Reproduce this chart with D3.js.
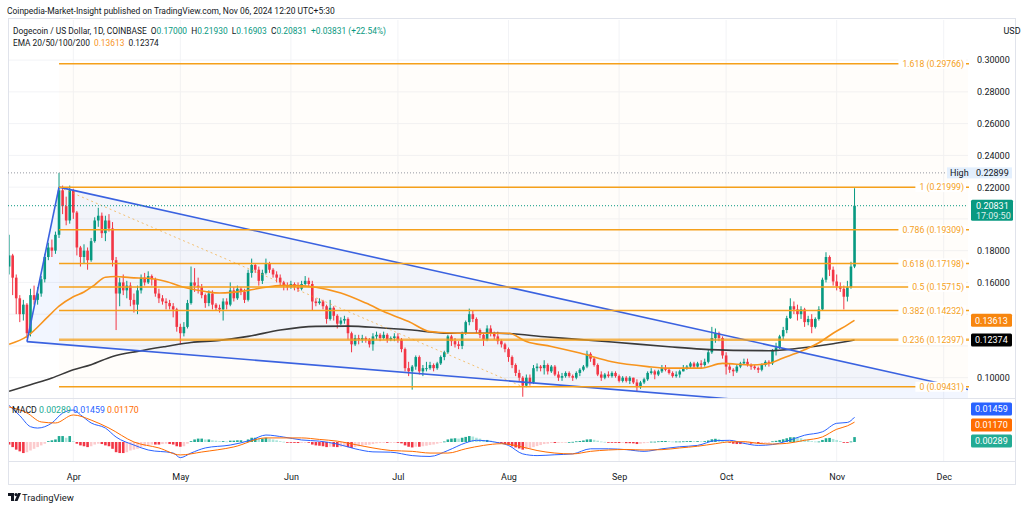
<!DOCTYPE html>
<html><head><meta charset="utf-8">
<script src="https://cdn.jsdelivr.net/npm/d3@7"></script>
<style>
body{margin:0;background:#fff;}
svg{display:block;}
text{font-family:Roboto,"Liberation Sans",sans-serif;}
</style></head>
<body><svg id="c" width="1024" height="510"></svg>
<script>
// ---------------- DATA ----------------
const firstDate = "2024-03-14";
const firstOpen = 0.170;
// daily closes Mar 14 .. Nov 6 2024
const closes = [
.177,.163,.150,.140,.146,.128,.152,.149,.153,.162,.176,.182,.180,.190,.218,.208,.199,.218,
.204,.182,.176,.180,.174,.186,.199,.202,.191,.199,.194,.174,.153,.160,.155,.158,.149,.146,.155,.163,.160,.164,.162,.153,.150,.148,.147,.145,.143,.132,
.128,.132,.147,.160,.158,.157,.152,.147,.153,.146,.144,.143,.148,.146,.155,.150,.156,.154,.149,.166,.171,.168,.161,.166,.172,.168,.165,.163,.160,.158,.157,
.159,.157,.156,.159,.161,.159,.148,.147,.148,.145,.137,.144,.139,.134,.136,.137,.128,.121,.125,.124,.125,.124,.121,.126,.127,.125,.127,.124,.125,.126,
.124,.118,.106,.104,.107,.113,.104,.106,.106,.108,.106,.109,.113,.116,.126,.123,.121,.120,.128,.135,.140,.137,.130,.127,.124,.131,.128,.126,.123,.121,.118,
.113,.108,.103,.100,.095,.100,.097,.106,.107,.106,.108,.104,.107,.102,.100,.101,.103,.101,.100,.103,.105,.107,.115,.112,.108,.102,.100,.102,.101,.103,.101,
.098,.100,.098,.100,.097,.094,.097,.099,.103,.104,.102,.104,.106,.105,.103,.101,.102,.104,.106,.107,.109,.107,.109,.108,.110,.116,.125,.128,.125,.114,
.107,.105,.104,.107,.109,.110,.108,.107,.106,.105,.108,.110,.109,.117,.119,.126,.130,.1375,.145,.143,.140,.143,.135,.137,.132,.137,.143,.1617,.176,.168,.1606,
.1575,.156,.151,.157,.170,.20831];
const highs = [
.190,.178,.165,.152,.149,.147,.156,.158,.157,.164,.178,.185,.187,.192,.229,.221,.214,.221,
.219,.205,.183,.184,.182,.188,.201,.207,.204,.202,.203,.198,.176,.163,.165,.161,.160,.153,.158,.165,.166,.167,.165,.163,.156,.152,.150,.149,.147,.144,
.134,.135,.149,.170,.169,.163,.159,.153,.155,.155,.147,.146,.150,.150,.160,.157,.158,.157,.156,.168,.175,.172,.170,.168,.175,.173,.169,.167,.165,.161,.160,
.161,.160,.160,.161,.164,.163,.161,.150,.150,.149,.146,.149,.145,.140,.138,.139,.138,.129,.127,.127,.127,.126,.125,.128,.129,.128,.129,.128,.126,.128,
.128,.125,.119,.110,.108,.114,.114,.108,.110,.110,.109,.110,.114,.117,.127,.127,.125,.123,.129,.136,.1435,.142,.138,.131,.128,.133,.133,.129,.129,.124,.122,
.119,.114,.109,.105,.101,.102,.102,.108,.109,.108,.111,.109,.108,.108,.104,.103,.104,.104,.102,.104,.106,.108,.117,.116,.113,.109,.104,.103,.104,.104,.104,
.102,.101,.101,.101,.100,.099,.098,.100,.104,.106,.105,.105,.108,.108,.106,.104,.104,.105,.108,.108,.110,.110,.110,.111,.112,.118,.132,.131,.129,.126,
.116,.109,.106,.108,.110,.112,.112,.109,.108,.107,.109,.111,.111,.118,.122,.127,.132,.139,.150,.148,.146,.145,.144,.139,.140,.138,.145,.163,.179,.177,.170,
.165,.160,.158,.161,.173,.2193];
const lows = [
.165,.152,.140,.135,.136,.125,.126,.146,.146,.151,.160,.174,.176,.178,.188,.203,.196,.197,
.200,.177,.170,.172,.168,.173,.185,.195,.188,.186,.192,.170,.130,.145,.152,.150,.145,.141,.140,.153,.158,.159,.158,.151,.147,.146,.143,.143,.138,.129,
.121,.126,.131,.146,.154,.153,.150,.144,.145,.143,.142,.141,.136,.143,.145,.148,.149,.152,.147,.148,.163,.166,.158,.159,.165,.166,.163,.160,.158,.155,.155,
.156,.155,.154,.155,.158,.157,.142,.145,.146,.143,.134,.136,.136,.131,.133,.134,.124,.116,.120,.121,.122,.122,.119,.117,.124,.123,.124,.122,.123,.123,
.122,.116,.104,.101,.0925,.105,.102,.101,.104,.105,.104,.105,.108,.111,.115,.120,.119,.118,.118,.127,.133,.135,.128,.125,.120,.123,.126,.124,.121,.119,.116,
.110,.106,.101,.098,.088,.094,.095,.096,.104,.104,.102,.102,.103,.101,.098,.098,.100,.100,.098,.099,.101,.104,.106,.110,.107,.101,.098,.099,.100,.100,.100,
.097,.097,.097,.096,.096,.091,.093,.096,.098,.102,.099,.101,.103,.104,.102,.100,.100,.100,.104,.105,.106,.106,.106,.106,.107,.109,.115,.122,.123,.112,
.102,.103,.101,.103,.106,.108,.107,.105,.105,.103,.104,.107,.107,.108,.114,.118,.124,.128,.137,.140,.136,.137,.132,.133,.128,.131,.136,.142,.160,.164,.158,
.155,.154,.143,.148,.156,.169];

// EMA 50 (orange) and EMA 200 (dark) read at sample dates
const ema50 = [["2024-03-14",.121],["2024-03-19",.126],["2024-03-25",.1386],["2024-03-28",.145],["2024-04-01",.151],["2024-04-04",.154],["2024-04-07",.1585],["2024-04-10",.1633],["2024-04-13",.1637],["2024-04-17",.163],["2024-04-22",.1626],["2024-04-27",.1606],["2024-05-02",.157],["2024-05-08",.1543],["2024-05-12",.1533],["2024-05-20",.155],["2024-05-25",.157],["2024-05-29",.158],["2024-06-03",.158],["2024-06-08",.157],["2024-06-15",.1533],["2024-06-22",.147],["2024-06-28",.1407],["2024-07-04",.1354],["2024-07-10",.129],["2024-07-13",.1285],["2024-07-19",.128],["2024-07-26",.128],["2024-08-01",.128],["2024-08-06",.1228],["2024-08-13",.1197],["2024-08-21",.1155],["2024-08-30",.110],["2024-09-09",.107],["2024-09-15",.106],["2024-09-24",.106],["2024-09-30",.109],["2024-10-08",.108],["2024-10-13",.109],["2024-10-17",.1124],["2024-10-22",.1166],["2024-10-27",.122],["2024-10-31",.128],["2024-11-04",.1333],["2024-11-06",.13613]];
const ema200 = [["2024-03-14",.0914],["2024-03-20",.0956],["2024-03-26",.0998],["2024-04-01",.105],["2024-04-06",.1082],["2024-04-12",.1134],["2024-04-19",.1166],["2024-04-27",.1197],["2024-05-04",.1222],["2024-05-12",.1235],["2024-05-20",.126],["2024-05-29",.130],["2024-06-08",.1323],["2024-06-17",.1325],["2024-06-26",.1315],["2024-07-05",.130],["2024-07-15",.128],["2024-07-29",.128],["2024-08-12",.1256],["2024-08-30",.1225],["2024-09-15",.1195],["2024-09-24",.118],["2024-10-03",.1172],["2024-10-13",.117],["2024-10-22",.1187],["2024-10-31",.1214],["2024-11-06",.12374]];

// MACD (12,26,9)
const macdLine = [["2024-03-14",.0215],["2024-03-17",.0155],["2024-03-20",.0090],["2024-03-22",.0082],["2024-03-26",.0112],["2024-03-29",.0170],["2024-04-01",.0188],["2024-04-03",.0160],["2024-04-06",.0112],["2024-04-10",.0082],["2024-04-13",.0029],["2024-04-18",-.0018],["2024-04-22",-.0047],["2024-04-29",-.0065],["2024-05-01",-.0092],["2024-05-04",-.0065],["2024-05-08",-.0035],["2024-05-15",-.0018],["2024-05-21",.0012],["2024-05-25",.0041],["2024-05-30",.0029],["2024-06-04",.0012],["2024-06-09",.0005],["2024-06-14",-.0012],["2024-06-19",-.0040],["2024-06-24",-.0058],["2024-06-29",-.0060],["2024-07-05",-.0080],["2024-07-10",-.0085],["2024-07-15",-.0050],["2024-07-20",-.0005],["2024-07-23",.0010],["2024-07-28",.0],["2024-08-01",-.0020],["2024-08-05",-.0070],["2024-08-09",-.0080],["2024-08-14",-.0075],["2024-08-19",-.0070],["2024-08-24",-.0040],["2024-08-29",-.0040],["2024-09-03",-.0045],["2024-09-08",-.0055],["2024-09-13",-.0040],["2024-09-18",-.0028],["2024-09-23",-.0020],["2024-09-28",.0008],["2024-10-02",.0010],["2024-10-06",-.0008],["2024-10-10",-.0020],["2024-10-14",-.0015],["2024-10-18",.0005],["2024-10-23",.0040],["2024-10-28",.0060],["2024-11-01",.0110],["2024-11-04",.0115],["2024-11-06",.01459]];
const signalLine = [["2024-03-14",.0206],["2024-03-19",.0171],["2024-03-23",.0118],["2024-03-27",.0112],["2024-04-01",.0159],["2024-04-06",.0129],["2024-04-11",.0082],["2024-04-18",.0],["2024-04-25",-.0035],["2024-05-01",-.0076],["2024-05-07",-.0059],["2024-05-16",-.0029],["2024-05-25",.0024],["2024-06-04",.0024],["2024-06-09",.0015],["2024-06-14",.0005],["2024-06-19",-.0015],["2024-06-24",-.0035],["2024-06-29",-.0050],["2024-07-05",-.0055],["2024-07-10",-.0065],["2024-07-15",-.0065],["2024-07-20",-.0040],["2024-07-25",-.0020],["2024-07-30",-.0010],["2024-08-05",-.0030],["2024-08-09",-.0050],["2024-08-14",-.0065],["2024-08-19",-.0070],["2024-08-24",-.0055],["2024-08-29",-.0047],["2024-09-03",-.0044],["2024-09-08",-.0047],["2024-09-13",-.0045],["2024-09-18",-.0035],["2024-09-23",-.0025],["2024-09-28",-.0010],["2024-10-02",.0001],["2024-10-06",.0002],["2024-10-10",-.0008],["2024-10-14",-.0012],["2024-10-18",-.0008],["2024-10-23",.0010],["2024-10-28",.0030],["2024-11-01",.0075],["2024-11-04",.0095],["2024-11-06",.0117]];
// histogram per day, Mar 14 .. Nov 6
const macdHist = [
-.0015,-.003,-.0045,-.0055,-.0065,-.006,-.005,-.004,-.003,-.002,-.001,.0005,.001,.0015,.0035,.0035,.0025,.0035,
.0005,-.001,-.002,-.0025,-.003,-.0025,-.0015,-.001,-.0012,-.002,-.0025,-.004,-.006,-.0065,-.0065,-.006,-.005,-.0045,-.004,-.003,-.0025,-.002,-.0015,-.0015,-.0015,-.0012,-.001,-.0012,-.0015,-.0025,
-.0028,-.0025,-.001,.0005,.0015,.002,.002,.0015,.0015,.001,.0008,.0005,.0005,.0003,.0008,.0008,.001,.001,.0005,.0015,.0025,.0025,.002,.002,.0025,.002,.0015,.001,.0005,.0002,-.0002,
-.0003,-.0005,-.0006,-.0005,-.0003,-.0003,-.0015,-.002,-.0022,-.0025,-.003,-.0028,-.0028,-.003,-.0028,-.0025,-.003,-.0035,-.003,-.0025,-.002,-.0018,-.0016,-.0012,-.0008,-.0006,-.0003,-.0003,-.0002,-.0001,
-.0002,-.0008,-.002,-.0028,-.0032,-.0028,-.0028,-.0025,-.0022,-.0018,-.0015,-.001,-.0005,.0003,.0015,.002,.0022,.002,.0025,.003,.0035,.0032,.0025,.002,.0012,.0012,.0008,.0003,-.0002,-.0006,-.0012,
-.0018,-.0025,-.0032,-.0038,-.0045,-.0042,-.0038,-.003,-.0024,-.0018,-.0012,-.001,-.0006,-.0006,-.0005,-.0003,-.0001,0,.0001,.0004,.0006,.0009,.0015,.0016,.0013,.0008,.0003,.0001,-.0001,-.0001,-.0003,
-.0006,-.0005,-.0007,-.0007,-.0008,-.0012,-.001,-.0007,-.0002,.0002,.0002,.0004,.0006,.0006,.0005,.0003,.0003,.0003,.0004,.0005,.0006,.0005,.0005,.0004,.0005,.0009,.0016,.0019,.0018,.0012,
.0002,-.0005,-.001,-.0012,-.0012,-.0011,-.001,-.001,-.0009,-.0009,-.0006,-.0004,-.0003,.0004,.0007,.0012,.0016,.0022,.0028,.0028,.0025,.0022,.0016,.0012,.0005,.0003,.0003,.0012,.0022,.0024,.0018,
.0012,.0006,-.0002,-.0005,.0003,.00289];

const priceTicks = [0.10,0.12,0.14,0.16,0.18,0.20,0.22,0.24,0.26,0.28,0.30];
const monthTicks = ["2024-04-01","2024-05-01","2024-06-01","2024-07-01","2024-08-01","2024-09-01","2024-10-01","2024-11-01","2024-12-01"];
const fibRatios = [1.618,1,0.786,0.618,0.5,0.382,0.236,0];
const fibPrices = [0.29766,0.21999,0.19309,0.17198,0.15715,0.14232,0.12397,0.09431];
const fibStart = "2024-03-28", fibEnd = "2024-08-05";
const wedgeUpper = [["2024-03-28",0.2200],["2024-12-08",0.0925]];
const wedgeLower = [["2024-03-19",0.1227],["2024-12-08",0.0744]];
const highMark = 0.22899, lastPrice = 0.20831, lastTime = "17:09:50";

// ---------------- LAYOUT ----------------
const P = d3.utcParse("%Y-%m-%d");
const svg = d3.select("#c");
const paneL = 8, paneR = 968, mainT = 20, mainB = 398, macdT = 399, macdB = 461, axisR = 1015;
const x = d3.scaleUtc().domain([P("2024-04-01"), P("2024-11-01")]).range([73.3, 836.7]);
const y = d3.scaleLinear().domain([0.10, 0.30]).range([377.7, 60.1]);
const ym = d3.scaleLinear().domain([0, 0.01]).range([442, 425]);

const GREEN = "#089981", RED = "#f23645", ORANGE = "#f7941d", FIB = "#f5a01a", INK = "#131722";
const FS = 9;

function fit(t, w){ const n = t.node().getComputedTextLength(); t.attr("font-size", (+t.attr("font-size"))*w/n); }

svg.append("rect").attr("width",1024).attr("height",510).attr("fill","#fff");
svg.append("rect").attr("x",paneL+0.5).attr("y",mainT-1.5).attr("width",axisR-paneL).attr("height",486-mainT)
  .attr("fill","#fff").attr("stroke","#e0e3eb");

const defs = svg.append("defs");
defs.append("clipPath").attr("id","cm").append("rect").attr("x",paneL+1).attr("y",mainT).attr("width",paneR-paneL-1).attr("height",mainB-mainT);
defs.append("clipPath").attr("id","cd").append("rect").attr("x",paneL+1).attr("y",macdT).attr("width",paneR-paneL-1).attr("height",macdB-macdT);

const main = svg.append("g").attr("clip-path","url(#cm)");
const macd = svg.append("g").attr("clip-path","url(#cd)");

// grid
const gridG = main.append("g");
monthTicks.forEach(m=>{
  svg.insert("line",":scope > g").attr("x1",x(P(m))).attr("x2",x(P(m))).attr("y1",mainT).attr("y2",macdB).attr("stroke","#f2f3f6");
});
priceTicks.forEach(p=>{
  gridG.append("line").attr("x1",paneL).attr("x2",paneR).attr("y1",y(p)).attr("y2",y(p)).attr("stroke","#f2f3f6");
});

// fib background tint
const fx0 = x(P(fibStart));
for (let i=0;i<fibPrices.length-1;i++){
  main.append("rect").attr("x",fx0).attr("width",paneR-fx0)
    .attr("y",y(fibPrices[i])).attr("height",y(fibPrices[i+1])-y(fibPrices[i]))
    .attr("fill","#ff9800").attr("opacity",0.02);
}

// wedge fill
const wpts = [wedgeLower[0],wedgeUpper[0],wedgeUpper[1],wedgeLower[1]];
main.append("path").attr("d", d3.line().x(d=>x(P(d[0]))).y(d=>y(d[1]))(wpts)+"Z")
  .attr("fill","#2962ff").attr("opacity",0.06);

// candles
const days = closes.map((c,i)=>d3.utcDay.offset(P(firstDate), i));
const cw = 2.6;
const cg = main.append("g");
closes.forEach((c,i)=>{
  const o = i===0 ? firstOpen : closes[i-1];
  const h = Math.max(highs[i], o, c), l = Math.min(lows[i], o, c);
  const col = c >= o ? GREEN : RED;
  const cx = x(days[i]);
  cg.append("line").attr("x1",cx).attr("x2",cx).attr("y1",y(h)).attr("y2",y(l)).attr("stroke",col).attr("stroke-width",1);
  const top = y(Math.max(o,c)), bot = y(Math.min(o,c));
  cg.append("rect").attr("x",cx-cw/2).attr("y",top).attr("width",cw).attr("height",Math.max(1,bot-top)).attr("fill",col);
});

// EMAs
const pl = d3.line().x(d=>x(P(d[0]))).y(d=>y(d[1])).curve(d3.curveMonotoneX);
main.append("path").attr("d",pl(ema200)).attr("fill","none").attr("stroke","#3a3a3a").attr("stroke-width",1.6);
main.append("path").attr("d",pl(ema50)).attr("fill","none").attr("stroke",ORANGE).attr("stroke-width",1.6);

// fib diagonal
main.append("line").attr("x1",x(P(fibStart))).attr("y1",y(fibPrices[1])).attr("x2",x(P(fibEnd))).attr("y2",y(fibPrices[7]))
  .attr("stroke",FIB).attr("stroke-width",1).attr("stroke-dasharray","2,3").attr("opacity",0.6);

// fib lines
const fibLines = svg.append("g"), fibLabels = svg.append("g");
fibPrices.forEach((p,i)=>{
  const yy = y(p);
  fibLines.append("line").attr("x1",fx0).attr("x2",paneR+1).attr("y1",yy).attr("y2",yy)
    .attr("stroke",FIB).attr("stroke-width", i===6 ? 2.5 : 1.5).attr("opacity", i===6?0.75:1);
  const g = fibLabels.append("g");
  const t = g.append("text").attr("x",paneR-4).attr("y",yy+3.2).attr("text-anchor","end")
    .attr("font-size",8.7).attr("fill",FIB).text(`${fibRatios[i]} (${p.toFixed(5)})`);
  const bb = t.node().getBBox();
  g.insert("rect","text").attr("x",bb.x-4).attr("y",yy-5).attr("width",bb.width+6).attr("height",10).attr("fill","#fff");
});

// wedge lines
const wl = d3.line().x(d=>x(P(d[0]))).y(d=>y(d[1]));
[wedgeUpper, wedgeLower, [wedgeLower[0],wedgeUpper[0]]].forEach(seg=>{
  main.append("path").attr("d",wl(seg)).attr("stroke","#3a62e0").attr("stroke-width",1.6).attr("fill","none");
});

// High and last price dotted lines
svg.append("line").attr("x1",paneL).attr("x2",paneR).attr("y1",y(highMark)).attr("y2",y(highMark))
  .attr("stroke","#9598a1").attr("stroke-dasharray","1,2");
svg.append("line").attr("x1",paneL).attr("x2",paneR).attr("y1",y(lastPrice)).attr("y2",y(lastPrice))
  .attr("stroke",GREEN).attr("stroke-dasharray","1,2");

// pane separators
svg.append("line").attr("x1",paneL).attr("x2",axisR).attr("y1",mainB+0.5).attr("y2",mainB+0.5).attr("stroke","#e0e3eb");
svg.append("line").attr("x1",paneL).attr("x2",axisR).attr("y1",macdB+0.5).attr("y2",macdB+0.5).attr("stroke","#e0e3eb");

// badges on price axis (positions come from the values)
const badges = [
  {v:lastPrice, h:21, off:4.5},
  {v:ema50[ema50.length-1][1], h:13, off:0},
  {v:ema200[ema200.length-1][1], h:13, off:0}
];
// price axis; ticks hidden under a badge are skipped
const visibleTicks = priceTicks.filter(p => badges.every(b => Math.abs(y(p) - (y(b.v)+b.off)) > b.h/2 + 4));
const ax = svg.append("g").attr("transform",`translate(${paneR},0)`)
  .call(d3.axisRight(y).tickValues(visibleTicks).tickFormat(d3.format(".5f")).tickSize(0).tickPadding(9));
ax.select(".domain").remove();
ax.selectAll("text").attr("font-size",FS).attr("fill",INK).attr("font-family","Roboto, sans-serif");

function badge(yy, txt, bg, fg, h){
  svg.append("rect").attr("x",971).attr("y",yy-h/2).attr("width",41).attr("height",h).attr("rx",1.5).attr("fill",bg);
  svg.append("text").attr("x",975).attr("y",yy+3.2).attr("font-size",FS).attr("fill",fg).text(txt);
}
// High badge
svg.append("rect").attr("x",947).attr("y",y(highMark)-5.5).attr("width",65).attr("height",11).attr("fill","#e3effd");
svg.append("text").attr("x",950).attr("y",y(highMark)+3.2).attr("font-size",FS).attr("fill",INK).text("High");
svg.append("text").attr("x",976).attr("y",y(highMark)+3.2).attr("font-size",FS).attr("fill",INK).text(highMark.toFixed(5));
// last price
svg.append("rect").attr("x",971).attr("y",y(lastPrice)-6).attr("width",42).attr("height",21).attr("rx",1.5).attr("fill",GREEN);
svg.append("text").attr("x",976).attr("y",y(lastPrice)+3.2).attr("font-size",FS).attr("fill","#fff").text(lastPrice.toFixed(5));
svg.append("text").attr("x",976).attr("y",y(lastPrice)+12.8).attr("font-size",FS).attr("fill","#fff").attr("opacity",0.85).text(lastTime);
badge(y(badges[1].v), badges[1].v.toFixed(5), "#f7860f", "#fff", 13);
badge(y(badges[2].v), badges[2].v.toFixed(5), "#000", "#fff", 13);

// ---- MACD pane ----
const hb = macd.append("g");
macdHist.forEach((v,i)=>{
  const prev = i===0 ? v : macdHist[i-1];
  let col;
  if (v >= 0) col = v >= prev ? "#22ab94" : "#ace5dc";
  else col = v <= prev ? "#f23645" : "#fccbcd";
  const cx = x(days[i]);
  const y0 = ym(0), y1 = ym(v);
  hb.append("rect").attr("x",cx-1.3).attr("width",2.6).attr("y",Math.min(y0,y1)).attr("height",Math.max(0.8,Math.abs(y1-y0))).attr("fill",col);
});
const ml = d3.line().x(d=>x(P(d[0]))).y(d=>ym(d[1])).curve(d3.curveMonotoneX);
macd.append("path").attr("d",ml(macdLine)).attr("fill","none").attr("stroke","#2962ff").attr("stroke-width",1);
macd.append("path").attr("d",ml(signalLine)).attr("fill","none").attr("stroke","#ff6d00").attr("stroke-width",1);

const lastHist = macdHist[macdHist.length-1], lastMacd = macdLine[macdLine.length-1][1], lastSig = signalLine[signalLine.length-1][1];
[[409,lastMacd,"#2962ff"],[425,lastSig,"#ff6d00"],[441,lastHist,"#22ab94"]].forEach(([yy,v,c])=>{
  svg.append("rect").attr("x",971).attr("y",yy-6.5).attr("width",41).attr("height",13).attr("rx",1.5).attr("fill",c);
  svg.append("text").attr("x",975).attr("y",yy+3.2).attr("font-size",FS).attr("fill","#fff").text(v.toFixed(5));
});
// MACD legend
const mlg = svg.append("text").attr("x",12).attr("y",413).attr("font-size",FS).attr("xml:space","preserve");
mlg.append("tspan").attr("fill",INK).text("MACD ");
mlg.append("tspan").attr("fill","#22ab94").text(lastHist.toFixed(5)+" ");
mlg.append("tspan").attr("fill","#2962ff").text(lastMacd.toFixed(5)+" ");
mlg.append("tspan").attr("fill","#ff6d00").text(lastSig.toFixed(5));
fit(mlg, 127);

// time axis
const tx = svg.append("g").attr("transform",`translate(0,${macdB+7})`)
  .call(d3.axisBottom(x).tickValues(monthTicks.map(P)).tickFormat(d3.utcFormat("%b")).tickSize(0).tickPadding(6));
tx.select(".domain").remove();
tx.selectAll("text").attr("font-size",FS).attr("fill",INK).attr("font-family","Roboto, sans-serif");

// header texts
const t0 = svg.append("text").attr("x",7).attr("y",14).attr("font-size",FS).attr("fill",INK)
  .text("Coinpedia-Market-Insight published on TradingView.com, Nov 06, 2024 12:20 UTC+5:30");
fit(t0, 328);
const NB = "\u00a0";
const l1 = svg.append("text").attr("x",13).attr("y",34).attr("font-size",FS);
l1.append("tspan").attr("fill",INK).text("Dogecoin / US Dollar, 1D, COINBASE"+NB+NB+"O");
l1.append("tspan").attr("fill",GREEN).text("0.17000");
l1.append("tspan").attr("fill",INK).text(NB+NB+"H");
l1.append("tspan").attr("fill",GREEN).text("0.21930");
l1.append("tspan").attr("fill",INK).text(NB+NB+"L");
l1.append("tspan").attr("fill",GREEN).text("0.16903");
l1.append("tspan").attr("fill",INK).text(NB+NB+"C");
l1.append("tspan").attr("fill",GREEN).text("0.20831"+NB+NB+"+0.03831 (+22.54%)");
fit(l1, 374);
const l2 = svg.append("text").attr("x",13).attr("y",46).attr("font-size",FS);
l2.append("tspan").attr("fill",INK).text("EMA 20/50/100/200"+NB+NB);
l2.append("tspan").attr("fill",ORANGE).text(badges[1].v.toFixed(5)+NB+NB);
l2.append("tspan").attr("fill",INK).text(badges[2].v.toFixed(5));
fit(l2, 146);
svg.append("text").attr("x",1012).attr("y",34).attr("font-size",FS).attr("fill",INK).attr("text-anchor","middle").text("USD");

// TradingView logo
const lg = svg.append("g").attr("transform","translate(8,493)");
lg.append("path").attr("d","M0 0 H6 V8 H3 V3 H0 Z").attr("fill",INK);
lg.append("circle").attr("cx",8).attr("cy",1.6).attr("r",1.6).attr("fill",INK);
lg.append("path").attr("d","M10 0 H13 L9.5 8 H6.5 Z").attr("fill",INK);
const tv = svg.append("text").attr("x",22).attr("y",501).attr("font-size",FS).attr("fill",INK).text("TradingView");
fit(tv, 52);
</script></body></html>
